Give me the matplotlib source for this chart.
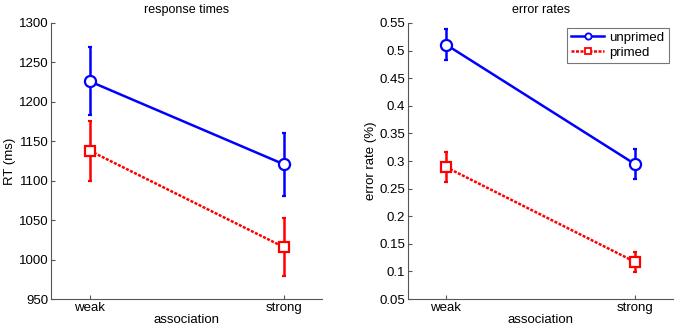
import matplotlib
matplotlib.use('Agg')
import matplotlib.pyplot as plt
from matplotlib.lines import Line2D

plt.rcParams['font.family'] = ['Liberation Sans', 'DejaVu Sans']
plt.rcParams['font.size'] = 9

# data
conditions = ['weak', 'strong']
xpos = [1, 2]

rt_unprimed = [1226, 1121]
rt_unprimed_err = [43, 40]
rt_primed = [1138, 1016]
rt_primed_err = [38, 37]

er_unprimed = [0.511, 0.294]
er_unprimed_err = [0.028, 0.027]
er_primed = [0.289, 0.117]
er_primed_err = [0.027, 0.018]

rt_ticks = [950, 1000, 1050, 1100, 1150, 1200, 1250, 1300]
er_ticks = [0.05, 0.1, 0.15, 0.2, 0.25, 0.3, 0.35, 0.4, 0.45, 0.5, 0.55]
er_ticklabels = ['0.05', '0.1', '0.15', '0.2', '0.25', '0.3', '0.35', '0.4', '0.45', '0.5', '0.55']

fig = plt.figure(figsize=(6.8, 3.33), dpi=100)
ax1 = fig.add_axes([0.075, 0.102, 0.399, 0.829])
ax2 = fig.add_axes([0.600, 0.102, 0.390, 0.829])


def draw(ax, up, up_err, pr, pr_err):
	ax.errorbar(xpos, up, yerr=up_err, color='#0000ff', lw=1.8, ls='-',
		marker='o', ms=8, mfc='white', mec='#0000ff', mew=1.6,
		capsize=1.5, capthick=1.6, elinewidth=1.8)
	ax.errorbar(xpos, pr, yerr=pr_err, color='#ff0000', lw=1.8, ls=(0, (1.2, 0.6)),
		marker='s', ms=7, mfc='white', mec='#ff0000', mew=1.6,
		capsize=1.5, capthick=1.6, elinewidth=1.8)
	ax.set_xlim(0.8, 2.2)
	ax.set_xticks(xpos)
	ax.set_xticklabels(conditions)
	ax.set_xlabel('association', fontsize=9.5, labelpad=0)
	for s in ['top', 'right']:
		ax.spines[s].set_visible(False)
	for s in ['left', 'bottom']:
		ax.spines[s].set_color('#555555')
		ax.spines[s].set_linewidth(0.8)
	ax.tick_params(direction='in', length=3, color='#555555', labelsize=9.5, pad=2)


draw(ax1, rt_unprimed, rt_unprimed_err, rt_primed, rt_primed_err)
ax1.set_ylim(950, 1300)
ax1.set_yticks(rt_ticks)
ax1.set_ylabel('RT (ms)', fontsize=9.5, labelpad=2)
ax1.set_title('response times', fontsize=9, pad=7)

draw(ax2, er_unprimed, er_unprimed_err, er_primed, er_primed_err)
ax2.set_ylim(0.05, 0.55)
ax2.set_yticks(er_ticks)
ax2.set_yticklabels(er_ticklabels)
ax2.set_ylabel('error rate (%)', fontsize=9.5, labelpad=2)
ax2.set_title('error rates', fontsize=9, pad=7)

handles = [
	Line2D([], [], color='#0000ff', lw=1.8, ls='-', marker='o', ms=4.5,
		mfc='white', mec='#0000ff', mew=1.3),
	Line2D([], [], color='#ff0000', lw=1.8, ls=(0, (1.2, 0.6)), marker='s', ms=4,
		mfc='white', mec='#ff0000', mew=1.3),
]
leg = ax2.legend(handles, ['unprimed', 'primed'], loc='upper right', fontsize=9.5,
	fancybox=False, edgecolor='#555555', handlelength=2.5, borderaxespad=0.35,
	handletextpad=0.4, labelspacing=0.2, borderpad=0.3)
leg.get_frame().set_linewidth(0.8)

fig.savefig('out.png', dpi=100)
